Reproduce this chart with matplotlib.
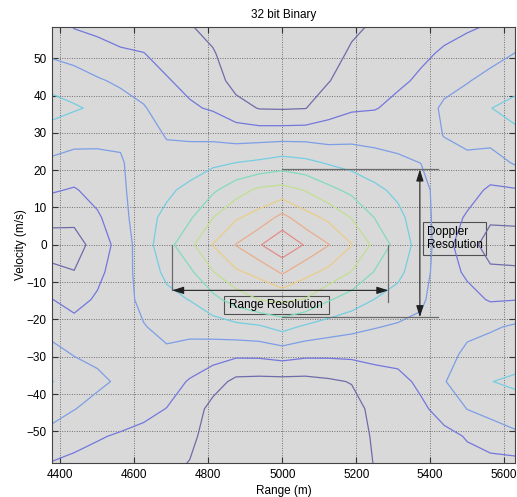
import numpy as np
import matplotlib
matplotlib.use("Agg")
import matplotlib.pyplot as plt
from matplotlib.patches import Rectangle

plt.rcParams['font.family'] = ['Liberation Sans', 'DejaVu Sans']

# Grid of the ambiguity surface
range_m = [4375, 4437.5, 4500, 4562.5, 4625, 4687.5, 4750, 4812.5, 4875, 4937.5,
           5000, 5062.5, 5125, 5187.5, 5250, 5312.5, 5375, 5437.5, 5500, 5562.5, 5630]
velocity = [-58.6, -51.28, -43.95, -36.63, -29.3, -21.98, -14.65, -7.33, 0,
            7.33, 14.65, 21.98, 29.3, 36.63, 43.95, 51.28, 58.6]

# normalised magnitude, one row per velocity (bottom to top)
amb = [
    [0.195, 0.180, 0.165, 0.155, 0.145, 0.130, 0.095, 0.040, 0.030, 0.030, 0.030, 0.030, 0.030, 0.040, 0.105, 0.125, 0.145, 0.160, 0.180, 0.175, 0.170],
    [0.268, 0.230, 0.208, 0.190, 0.175, 0.160, 0.128, 0.045, 0.035, 0.030, 0.025, 0.030, 0.030, 0.045, 0.115, 0.135, 0.160, 0.180, 0.205, 0.240, 0.279],
    [0.342, 0.303, 0.267, 0.250, 0.225, 0.198, 0.160, 0.065, 0.045, 0.035, 0.030, 0.035, 0.040, 0.060, 0.130, 0.150, 0.185, 0.230, 0.302, 0.335, 0.363],
    [0.405, 0.360, 0.320, 0.285, 0.255, 0.240, 0.192, 0.144, 0.075, 0.070, 0.070, 0.070, 0.085, 0.105, 0.160, 0.175, 0.217, 0.295, 0.350, 0.398, 0.415],
    [0.333, 0.295, 0.278, 0.280, 0.270, 0.283, 0.259, 0.238, 0.221, 0.223, 0.242, 0.222, 0.220, 0.223, 0.225, 0.229, 0.248, 0.265, 0.320, 0.350, 0.360],
    [0.266, 0.232, 0.245, 0.270, 0.295, 0.328, 0.333, 0.351, 0.372, 0.387, 0.434, 0.383, 0.351, 0.327, 0.305, 0.288, 0.280, 0.250, 0.275, 0.287, 0.313],
    [0.203, 0.168, 0.212, 0.260, 0.325, 0.375, 0.403, 0.471, 0.545, 0.602, 0.622, 0.595, 0.510, 0.453, 0.398, 0.365, 0.315, 0.245, 0.230, 0.192, 0.197],
    [0.129, 0.103, 0.176, 0.250, 0.345, 0.420, 0.481, 0.595, 0.685, 0.730, 0.812, 0.730, 0.675, 0.595, 0.493, 0.423, 0.340, 0.242, 0.185, 0.117, 0.117],
    [0.045, 0.060, 0.139, 0.241, 0.355, 0.463, 0.574, 0.704, 0.804, 0.891, 0.980, 0.891, 0.804, 0.704, 0.574, 0.463, 0.355, 0.241, 0.139, 0.060, 0.045],
    [0.134, 0.123, 0.187, 0.259, 0.370, 0.420, 0.487, 0.599, 0.688, 0.738, 0.830, 0.738, 0.678, 0.595, 0.497, 0.425, 0.345, 0.245, 0.190, 0.115, 0.126],
    [0.209, 0.192, 0.233, 0.270, 0.385, 0.384, 0.423, 0.484, 0.558, 0.620, 0.637, 0.595, 0.527, 0.476, 0.422, 0.378, 0.330, 0.255, 0.233, 0.186, 0.192],
    [0.283, 0.264, 0.279, 0.285, 0.375, 0.338, 0.355, 0.381, 0.401, 0.418, 0.444, 0.425, 0.391, 0.367, 0.342, 0.316, 0.299, 0.270, 0.274, 0.258, 0.310],
    [0.358, 0.336, 0.320, 0.325, 0.350, 0.293, 0.284, 0.276, 0.256, 0.258, 0.260, 0.262, 0.254, 0.269, 0.265, 0.268, 0.271, 0.302, 0.330, 0.335, 0.380],
    [0.435, 0.409, 0.386, 0.340, 0.308, 0.250, 0.212, 0.190, 0.138, 0.095, 0.092, 0.097, 0.160, 0.188, 0.195, 0.224, 0.242, 0.320, 0.360, 0.398, 0.430],
    [0.368, 0.355, 0.310, 0.285, 0.254, 0.207, 0.175, 0.149, 0.060, 0.050, 0.040, 0.045, 0.095, 0.153, 0.170, 0.185, 0.213, 0.260, 0.293, 0.335, 0.363],
    [0.285, 0.255, 0.239, 0.212, 0.202, 0.170, 0.140, 0.108, 0.045, 0.035, 0.025, 0.030, 0.050, 0.118, 0.150, 0.165, 0.185, 0.210, 0.230, 0.260, 0.302],
    [0.250, 0.194, 0.175, 0.160, 0.150, 0.140, 0.105, 0.070, 0.040, 0.035, 0.030, 0.035, 0.040, 0.075, 0.115, 0.150, 0.170, 0.175, 0.190, 0.205, 0.260],
]

levels = [0.1, 0.2, 0.3, 0.4, 0.5, 0.6, 0.7, 0.8, 0.9]
# jet-like colours, as they appear (washed out) in the original
level_colors = ['#6f6caa', '#7377dc', '#7d9de6', '#74cde2', '#82dbbd',
                '#c2df90', '#eacd88', '#ebad8c', '#e38c8a']

fig = plt.figure(figsize=(5.17, 4.97), dpi=100)
ax = fig.add_axes([0.101, 0.0684, 0.895, 0.878])
ax.set_facecolor('#d9d9d9')

X, Y = np.meshgrid(range_m, velocity)
ax.contour(X, Y, np.array(amb), levels=levels, colors=level_colors, linewidths=0.9)

ax.set_xlim(4378, 5629)
ax.set_ylim(-58.45, 58.45)
ax.set_xticks(range(4400, 5601, 200))
ax.set_yticks(range(-50, 51, 10))
ax.tick_params(direction='in', top=True, right=True, labelsize=8.5, length=4,
               color='#333333', pad=4)
ax.grid(True, linestyle=(0, (1, 1.5)), color='#707070', linewidth=0.7)
for sp in ax.spines.values():
    sp.set_color('#444444')
    sp.set_linewidth(0.8)

ax.set_title('32 bit Binary', fontsize=8.5, pad=6)
ax.set_xlabel('Range (m)', fontsize=8.5, labelpad=3)
ax.set_ylabel('Velocity (m/s)', fontsize=8.5, labelpad=0)

# resolution annotations
ann = '#6a6a6a'
arrow_kw = dict(arrowstyle='<|-|>,head_length=0.7,head_width=0.22',
                color='#202020', lw=0.8, shrinkA=0, shrinkB=0)

dop_x, dop_top, dop_bot = 5372, 20.2, -19.4
ax.plot([5000, 5420], [dop_top, dop_top], color=ann, lw=0.9)
ax.plot([5000, 5422], [dop_bot, dop_bot], color=ann, lw=0.9)
ax.annotate('', xy=(dop_x, dop_top), xytext=(dop_x, dop_bot), arrowprops=arrow_kw)
ax.add_patch(Rectangle((5380, -2.7), 172, 8.9, fill=False, edgecolor='#505050', lw=0.8))
ax.text(5390, 1.75, 'Doppler\nResolution', ha='left', va='center', fontsize=8.5,
        linespacing=1.15)

rng_left, rng_right, rng_y = 4702, 5287, -12.2
ax.plot([rng_left, rng_left], [0, rng_y], color=ann, lw=0.9)
ax.plot([rng_right, rng_right], [0, -15.2], color=ann, lw=0.9)
ax.annotate('', xy=(rng_left, rng_y), xytext=(rng_right, rng_y), arrowprops=arrow_kw)
ax.add_patch(Rectangle((4842, -18.4), 285, 4.7, fill=False, edgecolor='#505050', lw=0.8))
ax.text(4984, -16.05, 'Range Resolution', ha='center', va='center', fontsize=8.5)

fig.savefig('out.png', dpi=100)
